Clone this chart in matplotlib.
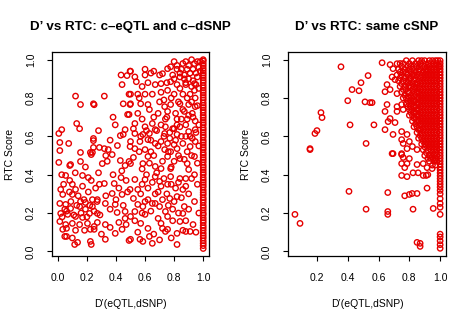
import matplotlib
matplotlib.use("Agg")
import matplotlib.pyplot as plt
import numpy as np

plt.rcParams['font.family'] = ['Liberation Sans', 'DejaVu Sans']

RED = "#e60000"

# ---- left panel: c-eQTL and c-dSNP ----
left_points = [
    (0.435, 0.92), (0.476, 0.917), (0.497, 0.94), (0.442, 0.87), (0.122, 0.81), (0.32, 0.81),
    (0.49, 0.82), (0.156, 0.766), (0.245, 0.77), (0.25, 0.765), (0.497, 0.766), (0.49, 0.714),
    (0.13, 0.667), (0.395, 0.66), (0.15, 0.64), (0.463, 0.635), (0.027, 0.635), (0.007, 0.615),
    (0.43, 0.604), (0.45, 0.61), (0.245, 0.589), (0.245, 0.578), (0.014, 0.568), (0.075, 0.563),
    (0.41, 0.552), (0.497, 0.547), (0.245, 0.542), (0.286, 0.542), (0.32, 0.536), (0.347, 0.531),
    (0.014, 0.526), (0.156, 0.516), (0.224, 0.516),
    (0.007, 0.464), (0.088, 0.453), (0.156, 0.469), (0.23, 0.505), (0.238, 0.516), (0.306, 0.458),
    (0.374, 0.505), (0.43, 0.474), (0.463, 0.448), (0.49, 0.469), (0.082, 0.448), (0.027, 0.4),
    (0.054, 0.396), (0.17, 0.396), (0.21, 0.385), (0.082, 0.37), (0.23, 0.37), (0.286, 0.35),
    (0.32, 0.354), (0.388, 0.354), (0.435, 0.385), (0.47, 0.37), (0.02, 0.323), (0.1, 0.35),
    (0.122, 0.323), (0.1, 0.297), (0.034, 0.297), (0.374, 0.302), (0.442, 0.297), (0.497, 0.323),
    (0.272, 0.27), (0.238, 0.27), (0.156, 0.26), (0.19, 0.255), (0.014, 0.25), (0.054, 0.245),
    (0.327, 0.25), (0.395, 0.245), (0.238, 0.234), (0.15, 0.234), (0.088, 0.224), (0.048, 0.22),
    (0.19, 0.22), (0.218, 0.198), (0.272, 0.198), (0.408, 0.203), (0.463, 0.208), (0.02, 0.198),
    (0.068, 0.193), (0.122, 0.182), (0.17, 0.177), (0.463, 0.172), (0.014, 0.156), (0.054, 0.14),
    (0.1, 0.146), (0.204, 0.146), (0.272, 0.151), (0.327, 0.14), (0.42, 0.151), (0.034, 0.115),
    (0.122, 0.11), (0.184, 0.11), (0.224, 0.115), (0.25, 0.115), (0.36, 0.125), (0.442, 0.115),
    (0.395, 0.094), (0.048, 0.078), (0.06, 0.078), (0.327, 0.063), (0.136, 0.047), (0.116, 0.036),
    (0.224, 0.052), (0.23, 0.036), (0.49, 0.057),
    (0.776, 0.963), (0.82, 0.95), (0.755, 0.953), (0.72, 0.927), (0.79, 0.92), (0.84, 0.91),
    (0.5, 0.94), (0.53, 0.91), (0.6, 0.92), (0.64, 0.93), (0.54, 0.885), (0.67, 0.87),
    (0.71, 0.875), (0.776, 0.885), (0.82, 0.87), (0.88, 0.87), (0.94, 0.875), (0.5, 0.82),
    (0.55, 0.82), (0.6, 0.82), (0.65, 0.82), (0.71, 0.83), (0.755, 0.84), (0.8, 0.82),
    (0.86, 0.82), (0.91, 0.82), (0.945, 0.8), (0.5, 0.77), (0.57, 0.77), (0.62, 0.766),
    (0.7, 0.78), (0.735, 0.755), (0.776, 0.766), (0.84, 0.77), (0.9, 0.766), (0.945, 0.755),
    (0.755, 0.73), (0.81, 0.72), (0.87, 0.73), (0.925, 0.72), (0.48, 0.714), (0.74, 0.69),
    (0.82, 0.69), (0.89, 0.69), (0.945, 0.68), (0.53, 0.667), (0.6, 0.65), (0.65, 0.667),
    (0.67, 0.635), (0.74, 0.65), (0.8, 0.64), (0.84, 0.65), (0.9, 0.625), (0.945, 0.635),
    (0.53, 0.615), (0.585, 0.61), (0.63, 0.615), (0.735, 0.615), (0.77, 0.59), (0.82, 0.61),
    (0.88, 0.6), (0.925, 0.59), (0.5, 0.573), (0.565, 0.573), (0.62, 0.583), (0.67, 0.563),
    (0.71, 0.573), (0.755, 0.563), (0.8, 0.557), (0.86, 0.563), (0.91, 0.547), (0.945, 0.573),
    (0.53, 0.536), (0.6, 0.531), (0.64, 0.52), (0.735, 0.531), (0.776, 0.52), (0.82, 0.536),
    (0.89, 0.52),
    (0.5, 0.458), (0.585, 0.458), (0.62, 0.495), (0.67, 0.443), (0.71, 0.432), (0.755, 0.495),
    (0.8, 0.47), (0.84, 0.484), (0.89, 0.458), (0.94, 0.495), (0.776, 0.432), (0.9, 0.427),
    (0.53, 0.375), (0.6, 0.375), (0.67, 0.39), (0.7, 0.365), (0.71, 0.34), (0.776, 0.39),
    (0.84, 0.38), (0.88, 0.38), (0.94, 0.4), (0.48, 0.31), (0.55, 0.323), (0.52, 0.276),
    (0.57, 0.3), (0.62, 0.27), (0.67, 0.3), (0.755, 0.35), (0.81, 0.33), (0.86, 0.323),
    (0.88, 0.34), (0.77, 0.276), (0.82, 0.286), (0.55, 0.245), (0.585, 0.234), (0.65, 0.25),
    (0.7, 0.234), (0.74, 0.208), (0.79, 0.22), (0.87, 0.234), (0.53, 0.208), (0.6, 0.193),
    (0.86, 0.198), (0.5, 0.182), (0.69, 0.172), (0.755, 0.182), (0.57, 0.146), (0.71, 0.146),
    (0.84, 0.156), (0.72, 0.12), (0.74, 0.104), (0.82, 0.094), (0.88, 0.104), (0.91, 0.104),
    (0.86, 0.11), (0.5, 0.063), (0.565, 0.063), (0.585, 0.052), (0.63, 0.078), (0.65, 0.042),
    (0.82, 0.036), (0.755, 0.115),
    (0.86, 0.98), (0.88, 0.99), (0.9, 0.97), (0.92, 1.0), (0.94, 0.98), (0.96, 0.99),
    (0.97, 0.96), (0.89, 0.95), (0.91, 0.93), (0.93, 0.95), (0.95, 0.93), (0.87, 0.92),
    (0.9, 0.9), (0.93, 0.89), (0.96, 0.91), (0.98, 0.94), (0.98, 0.99), (0.85, 0.95),
    (0.88, 0.88), (0.95, 0.87), (0.97, 0.85), (0.92, 0.86), (0.84, 0.93), (0.82, 0.97),
    (0.8, 0.99),
]

# more points from the crowded parts of the left panel
left_points_extra = [
    (0.03, 0.18), (0.06, 0.21), (0.09, 0.26), (0.11, 0.19), (0.13, 0.24), (0.16, 0.2),
    (0.18, 0.27), (0.2, 0.18), (0.22, 0.24), (0.25, 0.21), (0.27, 0.26), (0.29, 0.19),
    (0.04, 0.35), (0.08, 0.31), (0.14, 0.29), (0.17, 0.34), (0.21, 0.31), (0.26, 0.33),
    (0.12, 0.41), (0.19, 0.44), (0.28, 0.41), (0.06, 0.12), (0.15, 0.14), (0.25, 0.13),
    (0.1, 0.07), (0.3, 0.09), (0.33, 0.29), (0.36, 0.22), (0.38, 0.4), (0.34, 0.47),
    (0.4, 0.27), (0.42, 0.33), (0.45, 0.24), (0.47, 0.14), (0.44, 0.42), (0.36, 0.58),
    (0.28, 0.63), (0.38, 0.7), (0.45, 0.77), (0.33, 0.5),
    (0.52, 0.49), (0.56, 0.52), (0.58, 0.43), (0.61, 0.4), (0.63, 0.46), (0.66, 0.5),
    (0.68, 0.41), (0.69, 0.55), (0.72, 0.47), (0.73, 0.6), (0.76, 0.52), (0.78, 0.44),
    (0.79, 0.64), (0.81, 0.58), (0.83, 0.5), (0.85, 0.6), (0.87, 0.48), (0.88, 0.66),
    (0.91, 0.6), (0.92, 0.5), (0.93, 0.7), (0.95, 0.62), (0.96, 0.76), (0.94, 0.84),
    (0.92, 0.78), (0.89, 0.8), (0.86, 0.74), (0.83, 0.78), (0.78, 0.8), (0.73, 0.79),
    (0.69, 0.72), (0.66, 0.7), (0.63, 0.74), (0.58, 0.69), (0.55, 0.72), (0.52, 0.64),
    (0.57, 0.6), (0.61, 0.63), (0.64, 0.58), (0.68, 0.63), (0.71, 0.66), (0.75, 0.7),
    (0.77, 0.62), (0.82, 0.66), (0.85, 0.69), (0.9, 0.71), (0.58, 0.35), (0.62, 0.33),
    (0.65, 0.36), (0.69, 0.31), (0.73, 0.38), (0.75, 0.3), (0.78, 0.35), (0.8, 0.26),
    (0.83, 0.36), (0.85, 0.28), (0.9, 0.3), (0.92, 0.38), (0.94, 0.26), (0.6, 0.26),
    (0.64, 0.21), (0.67, 0.25), (0.72, 0.27), (0.76, 0.24), (0.79, 0.16), (0.83, 0.2),
    (0.88, 0.16), (0.9, 0.22), (0.93, 0.14), (0.62, 0.12), (0.66, 0.09), (0.7, 0.06),
    (0.78, 0.07), (0.55, 0.1), (0.53, 0.16), (0.58, 0.2), (0.96, 0.46), (0.97, 0.55),
    (0.97, 0.66), (0.96, 0.35), (0.97, 0.2), (0.95, 0.1), (0.87, 0.9), (0.84, 0.85),
    (0.8, 0.9), (0.75, 0.88), (0.7, 0.92), (0.66, 0.94), (0.62, 0.88), (0.58, 0.86),
    (0.56, 0.8), (0.6, 0.95),
]

# D' == 1 column, left panel
left_col_y = [
    0.015, 0.03, 0.042, 0.055, 0.07, 0.082, 0.095, 0.11, 0.123, 0.135, 0.15, 0.162, 0.175,
    0.19, 0.2, 0.215, 0.228, 0.24, 0.255, 0.268, 0.28, 0.295, 0.307, 0.32, 0.335, 0.347,
    0.36, 0.372, 0.385, 0.4, 0.412, 0.425, 0.438, 0.45, 0.465, 0.478, 0.49, 0.503, 0.515,
    0.53, 0.542, 0.555, 0.568, 0.58, 0.595, 0.607, 0.62, 0.633, 0.645, 0.66, 0.672, 0.685,
    0.698, 0.71, 0.724, 0.737, 0.75, 0.762, 0.775, 0.79, 0.802, 0.815, 0.828, 0.84, 0.853,
    0.866, 0.88, 0.892, 0.905, 0.918, 0.93, 0.943, 0.955, 0.968, 0.98, 0.993, 1.0,
]

# ---- right panel: same cSNP ----
right_points = [
    (0.356, 0.963), (0.532, 0.917), (0.486, 0.88), (0.428, 0.844), (0.473, 0.838), (0.4, 0.786),
    (0.512, 0.78), (0.545, 0.776), (0.226, 0.724), (0.233, 0.698), (0.415, 0.66), (0.57, 0.66),
    (0.2, 0.63), (0.187, 0.615), (0.519, 0.563), (0.155, 0.536), (0.155, 0.531), (0.408, 0.313),
    (0.519, 0.22), (0.057, 0.193), (0.09, 0.146),
    (0.694, 0.51), (0.75, 0.505), (0.76, 0.49), (0.8, 0.484), (0.75, 0.458), (0.785, 0.458),
    (0.85, 0.453), (0.948, 0.495), (0.89, 0.458), (0.77, 0.437), (0.915, 0.437), (0.948, 0.432),
    (0.955, 0.484), (0.75, 0.396), (0.785, 0.39), (0.824, 0.41), (0.857, 0.41), (0.89, 0.396),
    (0.91, 0.396), (0.92, 0.4), (0.915, 0.33), (0.66, 0.307), (0.77, 0.29), (0.8, 0.297),
    (0.818, 0.302), (0.85, 0.302), (0.955, 0.224), (0.824, 0.22), (0.66, 0.208), (0.66, 0.193),
    (0.85, 0.047), (0.87, 0.042), (0.87, 0.026),
    (0.623, 0.984), (0.675, 0.974), (0.694, 0.953), (0.72, 0.979), (0.688, 0.91), (0.707, 0.896),
    (0.655, 0.87), (0.642, 0.833), (0.675, 0.844), (0.72, 0.823), (0.558, 0.776), (0.655, 0.766),
    (0.72, 0.755), (0.642, 0.73), (0.72, 0.73), (0.76, 0.74), (0.75, 0.766), (0.675, 0.693),
    (0.662, 0.677), (0.707, 0.672), (0.642, 0.635), (0.694, 0.61), (0.75, 0.625), (0.785, 0.61),
    (0.75, 0.583), (0.76, 0.563), (0.8, 0.573), (0.82, 0.547), (0.85, 0.531), (0.688, 0.51),
    (0.75, 0.51), (0.785, 0.536),
]

# dense block of points near D' = 1, one row per RTC level
right_cluster_rows = [
    (0.995, [0.78, 0.82, 0.86, 0.88, 0.9, 0.93, 0.95, 0.97, 0.985]),
    (0.98, [0.74, 0.76, 0.8, 0.84, 0.87, 0.89, 0.92, 0.94, 0.96, 0.98]),
    (0.965, [0.75, 0.79, 0.81, 0.83, 0.85, 0.88, 0.9, 0.93, 0.95, 0.97, 0.99]),
    (0.95, [0.73, 0.77, 0.8, 0.82, 0.86, 0.87, 0.91, 0.92, 0.94, 0.96, 0.98]),
    (0.935, [0.74, 0.76, 0.78, 0.81, 0.84, 0.86, 0.89, 0.91, 0.93, 0.95, 0.97]),
    (0.92, [0.72, 0.75, 0.79, 0.82, 0.83, 0.85, 0.88, 0.9, 0.92, 0.94, 0.96, 0.98]),
    (0.905, [0.74, 0.77, 0.8, 0.81, 0.84, 0.87, 0.89, 0.91, 0.93, 0.95, 0.97]),
    (0.89, [0.73, 0.76, 0.78, 0.8, 0.83, 0.86, 0.88, 0.9, 0.92, 0.94, 0.96, 0.98]),
    (0.875, [0.75, 0.79, 0.82, 0.84, 0.85, 0.87, 0.89, 0.91, 0.93, 0.95, 0.97]),
    (0.86, [0.74, 0.77, 0.8, 0.81, 0.83, 0.86, 0.88, 0.9, 0.92, 0.94, 0.96, 0.98]),
    (0.845, [0.76, 0.78, 0.82, 0.84, 0.87, 0.89, 0.91, 0.93, 0.95, 0.97]),
    (0.83, [0.75, 0.79, 0.8, 0.83, 0.85, 0.86, 0.88, 0.9, 0.92, 0.94, 0.96, 0.98]),
    (0.815, [0.77, 0.81, 0.84, 0.87, 0.89, 0.91, 0.93, 0.95, 0.97]),
    (0.8, [0.76, 0.78, 0.8, 0.82, 0.85, 0.86, 0.88, 0.9, 0.92, 0.94, 0.96, 0.98]),
    (0.785, [0.79, 0.81, 0.83, 0.84, 0.87, 0.89, 0.91, 0.93, 0.95, 0.97]),
    (0.77, [0.78, 0.8, 0.82, 0.85, 0.86, 0.88, 0.9, 0.92, 0.94, 0.96, 0.98]),
    (0.755, [0.79, 0.81, 0.83, 0.84, 0.87, 0.89, 0.91, 0.93, 0.95, 0.97]),
    (0.74, [0.8, 0.82, 0.85, 0.86, 0.88, 0.9, 0.92, 0.94, 0.96, 0.98]),
    (0.725, [0.81, 0.83, 0.84, 0.87, 0.89, 0.91, 0.93, 0.95, 0.97]),
    (0.71, [0.8, 0.82, 0.85, 0.86, 0.88, 0.9, 0.92, 0.94, 0.96, 0.98]),
    (0.695, [0.83, 0.84, 0.87, 0.89, 0.91, 0.93, 0.95, 0.97]),
    (0.68, [0.82, 0.85, 0.86, 0.88, 0.9, 0.92, 0.94, 0.96, 0.98]),
    (0.665, [0.84, 0.87, 0.89, 0.91, 0.93, 0.95, 0.97]),
    (0.65, [0.83, 0.85, 0.88, 0.9, 0.92, 0.94, 0.96, 0.98]),
    (0.635, [0.86, 0.87, 0.89, 0.91, 0.93, 0.95, 0.97]),
    (0.62, [0.85, 0.88, 0.9, 0.92, 0.94, 0.96, 0.98]),
    (0.605, [0.87, 0.89, 0.91, 0.93, 0.95, 0.97]),
    (0.59, [0.86, 0.88, 0.9, 0.92, 0.94, 0.96, 0.98]),
    (0.575, [0.89, 0.91, 0.93, 0.95, 0.97]),
    (0.56, [0.88, 0.9, 0.92, 0.94, 0.96, 0.98]),
    (0.545, [0.9, 0.93, 0.95, 0.97]),
    (0.53, [0.89, 0.92, 0.94, 0.96, 0.98]),
    (0.515, [0.91, 0.95, 0.97]),
    (0.5, [0.9, 0.93, 0.96, 0.98]),
    (0.485, [0.92, 0.94, 0.97]),
    (0.47, [0.93, 0.96, 0.98]),
    (0.45, [0.95, 0.97]),
]

# D' == 1 column, right panel
right_col_y = [
    0.016, 0.035, 0.055, 0.075, 0.09, 0.193, 0.23, 0.25, 0.275, 0.3, 0.318, 0.335, 0.35,
    0.365, 0.38, 0.395, 0.41, 0.425, 0.44, 0.455, 0.47, 0.485, 0.5, 0.515, 0.53, 0.545,
    0.56, 0.575, 0.59, 0.605, 0.62, 0.635, 0.65, 0.665, 0.68, 0.695, 0.71, 0.725, 0.74,
    0.755, 0.77, 0.785, 0.8, 0.815, 0.83, 0.845, 0.86, 0.875, 0.89, 0.905, 0.92, 0.935,
    0.95, 0.965, 0.98, 0.995,
]

titles = ["D\u2019 vs RTC: c\u2013eQTL and c\u2013dSNP", "D\u2019 vs RTC: same cSNP"]
x_label = "D\u2019(eQTL,dSNP)"
y_label = "RTC Score"


def panel_xy(points, col_y, rows=()):
    xs = [p[0] for p in points] + [1.0] * len(col_y)
    ys = [p[1] for p in points] + list(col_y)
    for y, row in rows:
        xs += row
        ys += [y] * len(row)
    return np.array(xs), np.array(ys)


fig = plt.figure(figsize=(4.73, 3.22), dpi=100)
ax_l = fig.add_axes([0.1099, 0.205, 0.332, 0.6335])
ax_r = fig.add_axes([0.6089, 0.205, 0.334, 0.6335])

data = [panel_xy(left_points + left_points_extra, left_col_y),
        panel_xy(right_points, right_col_y, right_cluster_rows)]
xlims = [(-0.04, 1.04), (0.012, 1.038)]
xticks = [[0, 0.2, 0.4, 0.6, 0.8, 1.0], [0.2, 0.4, 0.6, 0.8, 1.0]]

for ax, (xs, ys), title, xl, xt in zip([ax_l, ax_r], data, titles, xlims, xticks):
    ax.scatter(xs, ys, s=15, facecolors="none", edgecolors=RED, linewidths=1.0)
    ax.set_xlim(*xl)
    ax.set_ylim(-0.024, 1.04)
    ax.set_xticks(xt)
    ax.set_xticklabels([f"{v:.1f}" for v in xt])
    ax.set_yticks([0, 0.2, 0.4, 0.6, 0.8, 1.0])
    ax.set_yticklabels(["0.0", "0.2", "0.4", "0.6", "0.8", "1.0"], rotation=90, va="center")
    ax.tick_params(direction="out", length=3.5, width=0.8, labelsize=7.5)
    ax.tick_params(axis="x", pad=9)
    ax.tick_params(axis="y", pad=8)
    for sp in ax.spines.values():
        sp.set_linewidth(0.9)
    ax.set_title(title, fontsize=9.6, fontweight="bold", pad=16)
    ax.set_xlabel(x_label, fontsize=7.5, labelpad=11)
    ax.set_ylabel(y_label, fontsize=7.5, labelpad=8)

fig.savefig("out.png", dpi=100)
